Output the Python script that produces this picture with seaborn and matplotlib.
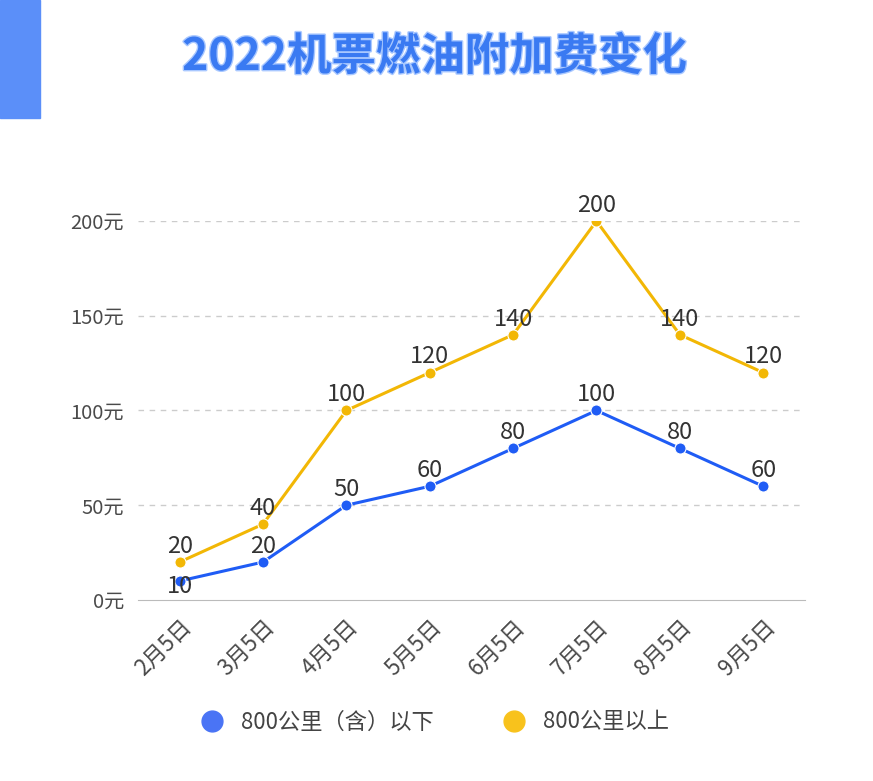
import matplotlib
matplotlib.use("Agg")
import matplotlib.pyplot as plt
import matplotlib.patches as mpatches
import matplotlib.patheffects as pe
from matplotlib.lines import Line2D
import seaborn as sns
import pandas as pd

# Data
dates = ["2月5日", "3月5日", "4月5日", "5月5日", "6月5日", "7月5日", "8月5日", "9月5日"]
below_800 = [10, 20, 50, 60, 80, 100, 80, 60]
above_800 = [20, 40, 100, 120, 140, 200, 140, 120]
series_names = ["800公里（含）以下", "800公里以上"]
y_ticks = [0, 50, 100, 150, 200]

blue = "#1f5cf5"
yellow = "#f2b705"

sns.set_style("white")
plt.rcParams["font.family"] = ["Noto Sans CJK SC", "DejaVu Sans"]

df = pd.DataFrame({
    "date": dates * 2,
    "x": list(range(len(dates))) * 2,
    "value": below_800 + above_800,
    "series": [series_names[0]] * len(dates) + [series_names[1]] * len(dates),
})

fig = plt.figure(figsize=(8.73, 7.81), dpi=100)
ax = fig.add_axes([0.158, 0.2318, 0.764, 0.4852])

sns.lineplot(data=df, x="x", y="value", hue="series",
             palette=[blue, yellow], marker="o", markersize=8,
             markeredgewidth=0.8, linewidth=2.2, legend=False, ax=ax)

ax.set_xlim(-0.5, len(dates) - 0.5)
ax.set_ylim(0, 200)
ax.set_yticks(y_ticks)
ax.set_yticklabels([f"{v}元" for v in y_ticks], fontsize=14.5, color="#4a4a4a")
ax.set_xticks(range(len(dates)))
ax.set_xticklabels(dates, rotation=45, ha="right", rotation_mode="anchor",
                   fontsize=16, color="#4a4a4a")
ax.set_xlabel("")
ax.set_ylabel("")

for yv in y_ticks[1:]:
    ax.axhline(yv, color="#cccccc", linestyle=(0, (4, 4)), linewidth=1, zorder=0)

for side in ["top", "right", "left"]:
    ax.spines[side].set_visible(False)
ax.spines["bottom"].set_color("#bbbbbb")
ax.tick_params(axis="x", length=5, color="#bbbbbb", pad=6)
ax.tick_params(axis="y", length=0, pad=10)

# data labels
for i, v in enumerate(above_800):
    ax.annotate(str(v), (i, v), xytext=(0, 3), textcoords="offset points",
                ha="center", va="bottom", fontsize=17, color="#333333",
                annotation_clip=False)
for i, v in enumerate(below_800):
    off = (0, -4) if i == 0 else (0, 3)
    va = "center" if i == 0 else "bottom"
    ax.annotate(str(v), (i, v), xytext=off, textcoords="offset points",
                ha="center", va=va, fontsize=17, color="#333333",
                annotation_clip=False)

# title and left accent bar
fig.patches.append(mpatches.Rectangle((0, 1 - 118 / 781), 40 / 873, 118 / 781,
                                      transform=fig.transFigure,
                                      color="#5b8ff9", zorder=0))
fig.text(0.498, 1 - 57 / 781, "2022机票燃油附加费变化", ha="center", va="center",
         fontsize=32, fontweight="bold", color="#3a7af2",
         path_effects=[pe.withStroke(linewidth=2, foreground="#a9c8ff")])

# legend
handles = [Line2D([0], [0], marker="o", linestyle="", markersize=15,
                  markerfacecolor=c, markeredgecolor=c)
           for c in ["#4a74f5", "#f8c21c"]]
fig.legend(handles, series_names, loc="center", bbox_to_anchor=(0.492, 1 - 722 / 781),
           ncol=2, frameon=False, fontsize=16, labelcolor="#444444",
           handletextpad=0.3, columnspacing=2.6)

fig.savefig("out.png", dpi=100, facecolor="white")
